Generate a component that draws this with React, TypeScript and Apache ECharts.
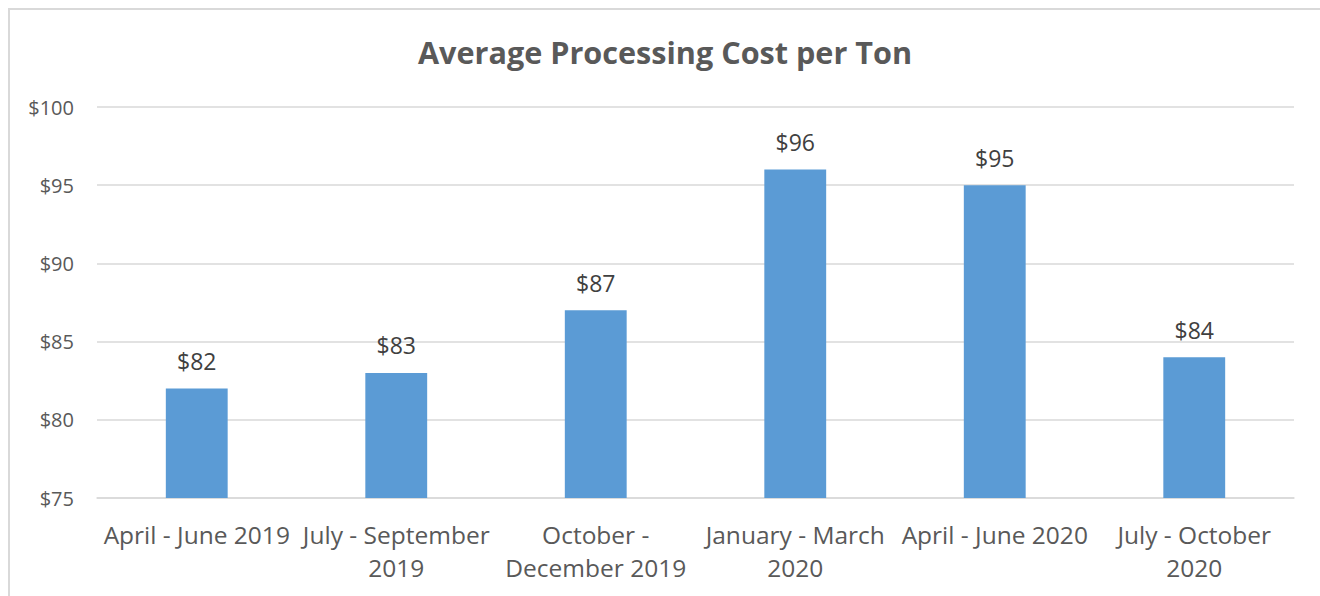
import React, { useEffect, useRef } from "react";
import * as echarts from "echarts";

const categories = [
  "April - June 2019",
  "July - September 2019",
  "October - December 2019",
  "January - March 2020",
  "April - June 2020",
  "July - October 2020",
];
const axisLabels = [
  "April - June 2019",
  "July - September\n2019",
  "October -\nDecember 2019",
  "January - March\n2020",
  "April - June 2020",
  "July - October\n2020",
];
const costValues = [82, 83, 87, 96, 95, 84];
const yTicks = { min: 75, max: 100, interval: 5 };

export default function App() {
  const ref = useRef<HTMLDivElement>(null);
  useEffect(() => {
    document.body.style.overflow = "hidden";
    document.documentElement.style.overflow = "hidden";
    const chart = echarts.init(ref.current!, null, { renderer: "svg" });
    const font = "'Open Sans', sans-serif";
    chart.setOption({
      animation: false,
      title: {
        text: "Average Processing Cost per Ton",
        left: "center",
        top: 21,
        textStyle: { fontFamily: font, fontSize: 30.6, fontWeight: "bold", color: "#595959" },
      },
      grid: { left: 87, right: 26, top: 97, bottom: 98, containLabel: false },
      xAxis: {
        type: "category",
        data: categories,
        axisLine: { show: true, lineStyle: { color: "#d9d9d9", width: 1.5 } },
        axisTick: { show: false },
        axisLabel: {
          interval: 0,
          margin: 20,
          fontFamily: font,
          fontSize: 24.5,
          lineHeight: 33,
          color: "#595959",
          formatter: (_v: string, i: number) => axisLabels[i],
        },
      },
      yAxis: {
        type: "value",
        min: yTicks.min,
        max: yTicks.max,
        interval: yTicks.interval,
        axisLine: { show: false },
        axisTick: { show: false },
        splitLine: { lineStyle: { color: "#d9d9d9", width: 1.5 } },
        axisLabel: {
          margin: 23,
          fontFamily: font,
          fontSize: 20,
          color: "#595959",
          formatter: (v: number) => "$" + v,
        },
      },
      series: [
        {
          type: "bar",
          data: costValues,
          barWidth: "31%",
          itemStyle: { color: "#5B9BD5" },
          label: {
            show: true,
            position: "top",
            distance: 16,
            fontFamily: font,
            fontSize: 23,
            color: "#404040",
            formatter: (p: any) => "$" + p.value,
          },
        },
      ],
    });
    return () => chart.dispose();
  }, []);
  return (
    <div
      style={{
        position: "fixed",
        left: 8,
        top: 8,
        width: 1312,
        height: 588,
        borderLeft: "2px solid #d9d9d9",
        borderTop: "2px solid #d9d9d9",
        boxSizing: "border-box",
        background: "#fff",
        overflow: "hidden",
      }}
    >
      <div ref={ref} style={{ width: 1310, height: 586 }} />
    </div>
  );
}
